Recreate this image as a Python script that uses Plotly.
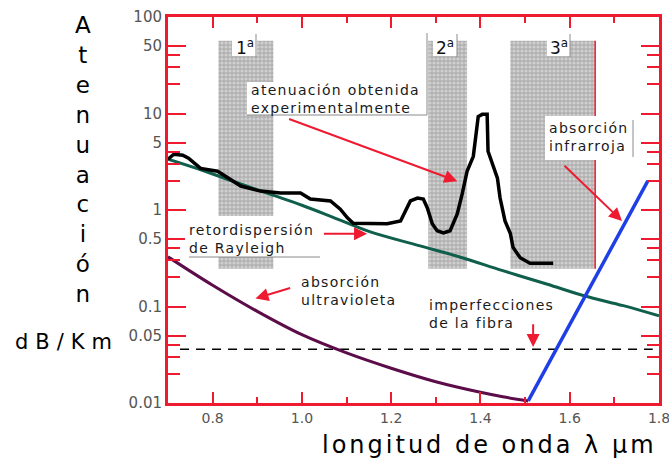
import numpy as np
import plotly.graph_objects as go

# Measured attenuation (dB/km) versus wavelength (um)
exp_wl = [0.700, 0.713, 0.733, 0.746, 0.773, 0.811, 0.863, 0.907, 0.952, 0.997,
          1.019, 1.064, 1.086, 1.102, 1.115, 1.191, 1.221, 1.232, 1.243, 1.259,
          1.272, 1.281, 1.292, 1.303, 1.317, 1.332, 1.348, 1.359, 1.370, 1.384,
          1.395, 1.404, 1.415, 1.417, 1.438, 1.444, 1.455, 1.467, 1.473, 1.489,
          1.511, 1.563]
exp_att = [3.36, 3.78, 3.69, 3.44, 2.70, 2.52, 1.77, 1.57, 1.50, 1.50,
           1.30, 1.24, 1.02, 0.83, 0.73, 0.72, 0.77, 0.98, 1.24, 1.33,
           1.30, 1.05, 0.72, 0.61, 0.58, 0.61, 0.91, 1.46, 2.52, 3.60,
           9.3, 9.8, 9.8, 4.06, 2.14, 1.33, 0.77, 0.57, 0.41, 0.32,
           0.28, 0.28]

# Rayleigh back-scattering
ray_wl = [0.70, 0.78, 0.85, 0.93, 1.00, 1.07, 1.15, 1.26, 1.35, 1.45, 1.55, 1.63, 1.72, 1.80]
ray_att = [3.36, 2.55, 1.95, 1.45, 1.12, 0.84, 0.60, 0.43, 0.33, 0.235, 0.17, 0.13, 0.102, 0.08]

# Ultraviolet absorption
uv_wl = [0.70, 0.80, 0.90, 1.00, 1.10, 1.20, 1.30, 1.40, 1.45, 1.507]
uv_att = [0.327, 0.166, 0.089, 0.051, 0.033, 0.0229, 0.0166, 0.0129, 0.0116, 0.0105]

# Infrared absorption
ir_wl = [1.507, 1.775]
ir_att = [0.0105, 2.0]

# Fibre imperfections floor
imperf_wl = [0.727, 1.786]
imperf_att = [0.036, 0.036]

# Transmission windows
window_labels = ["1<sup>a</sup>", "2<sup>a</sup>", "3<sup>a</sup>"]
window_lo = [0.813, 1.283, 1.467]
window_hi = [0.936, 1.370, 1.657]
window_att_lo = 0.246
window_att_hi = 56.6

x_ticks = [0.8, 1.0, 1.2, 1.4, 1.6, 1.8]
x_tick_text = ["0.8", "1.0", "1.2", "1.4", "1.6", "1.8"]
x_minor = [0.9, 1.1, 1.3, 1.5, 1.7]
y_ticks = [0.01, 0.05, 0.1, 0.5, 1, 5, 10, 50, 100]
y_tick_text = ["0.01", "0.05", "0.1", "0.5", "1", "5", "10", "50", "100"]
y_minor = [0.02, 0.03, 0.04, 0.2, 0.3, 0.4, 2, 3, 4, 20, 30, 40]

RED = "#ee1a30"
FONT = "DejaVu Sans"
W, H = 669, 461
L, R, T, B = 168, 10, 17, 58


def px(x):
    return (x - L) / (W - L - R)


def py(y):
    return (H - B - y) / (H - T - B)


def spaced(text, sp):
    return "<br>".join(f"<span style='letter-spacing:{sp}px'>{t}</span>" for t in text.split("\n"))


fig = go.Figure()

centers = [(a + b) / 2 for a, b in zip(window_lo, window_hi)]
widths = [b - a for a, b in zip(window_lo, window_hi)]
fig.add_bar(
    x=centers, width=widths,
    base=[window_att_lo] * 3, y=[window_att_hi - window_att_lo] * 3,
    marker=dict(color="#b2b2b2", line_width=0,
                pattern=dict(shape=".", fgcolor="#ededed", bgcolor="#b0b0b0", size=4, solidity=0.5)),
    hoverinfo="skip", showlegend=False,
)

# red edge of the third window
fig.add_scatter(x=[window_hi[2]] * 2, y=[window_att_lo, window_att_hi], mode="lines",
                line=dict(color=RED, width=1.5), hoverinfo="skip", showlegend=False)

fig.add_scatter(x=imperf_wl, y=imperf_att, mode="lines",
                line=dict(color="black", width=1.5, dash="9px,7px"), showlegend=False)
fig.add_scatter(x=ray_wl, y=ray_att, mode="lines", line=dict(color="#0f5f4c", width=3, shape="spline"),
                showlegend=False)
fig.add_scatter(x=uv_wl, y=uv_att, mode="lines", line=dict(color="#5c0c48", width=3, shape="spline"),
                showlegend=False)
fig.add_scatter(x=ir_wl, y=ir_att, mode="lines", line=dict(color="#1f3fe6", width=3.5), showlegend=False)
fig.add_scatter(x=exp_wl, y=exp_att, mode="lines", line=dict(color="black", width=3.5), showlegend=False)

shapes = []
annotations = []

# white label boxes and their thin edges
boxes = [(232, 257, 39, 56), (433, 457, 39, 56), (547, 570, 39, 56),
         (247, 427, 82, 115), (185, 322, 216, 257), (545, 633, 116, 160)]
for x0, x1, y0, y1 in boxes:
    shapes.append(dict(type="rect", xref="paper", yref="paper", x0=px(x0), x1=px(x1), y0=py(y1), y1=py(y0),
                       fillcolor="white", line_width=0, layer="above"))
edge_lines = [(256, 34, 256, 57), (457, 34, 457, 57), (570, 34, 570, 57),
              (427, 33, 427, 115), (247, 115, 427, 115),
              (189, 257, 320, 257), (633, 120, 633, 157)]
for x0, y0, x1, y1 in edge_lines:
    shapes.append(dict(type="line", xref="paper", yref="paper", x0=px(x0), x1=px(x1), y0=py(y0), y1=py(y1),
                       line=dict(color="#8a8a8a", width=1), layer="above"))

# window labels
for lab, cx in zip(window_labels, [244.5, 445, 558.5]):
    annotations.append(dict(text=lab, x=px(cx), y=py(47.5), xref="paper", yref="paper", showarrow=False,
                            xanchor="center", yanchor="middle", font=dict(family=FONT, size=17, color="#111")))

labels = [
    ("atenuación obtenida\nexperimentalmente", 249, 80),
    ("retordispersión\nde Rayleigh", 187, 220),
    ("absorción\nultravioleta", 299, 272),
    ("imperfecciones\nde la fibra", 427, 295),
    ("absorción\ninfrarroja", 547, 118),
]
for txt, x0, y0 in labels:
    annotations.append(dict(text=spaced(txt, 1.3), x=px(x0), y=py(y0), xref="paper", yref="paper",
                            showarrow=False, xanchor="left", yanchor="top", align="left",
                            font=dict(family=FONT, size=14, color="#1a1a1a")))

# arrows pointing at the curves (tail -> head, data coordinates)
arrows = [
    ((0.968, 8.88), (1.348, 1.99)),
    ((1.046, 0.566), (1.146, 0.566)),
    ((0.977, 0.157), (0.896, 0.121)),
    ((1.518, 0.068), (1.518, 0.038)),
    ((1.585, 2.98), (1.717, 0.77)),
]
for (tx, ty), (hx, hy) in arrows:
    annotations.append(dict(text="", x=hx, y=np.log10(hy), ax=tx, ay=np.log10(ty), xref="x", yref="y",
                            axref="x", ayref="y", showarrow=True, arrowhead=2, arrowsize=1.3,
                            arrowwidth=2, arrowcolor=RED, standoff=0, startstandoff=0))

# axis titles
annotations.append(dict(text="<br>".join("Atenuación"), x=px(83), y=py(10), xref="paper", yref="paper",
                        showarrow=False, xanchor="center", yanchor="top", align="center",
                        font=dict(family=FONT, size=23, color="black")))
annotations.append(dict(text=spaced("dB/Km", 7), x=px(13), y=py(342), xref="paper", yref="paper",
                        showarrow=False, xanchor="left", yanchor="middle",
                        font=dict(family=FONT, size=21, color="black")))
annotations.append(dict(text=spaced("longitud de onda λ μm", 3.0), x=px(320), y=py(445), xref="paper",
                        yref="paper", showarrow=False, xanchor="left", yanchor="middle",
                        font=dict(family=FONT, size=24, color="black")))

axis_common = dict(showline=True, linecolor=RED, linewidth=3, mirror="allticks", ticks="inside",
                   tickcolor=RED, tickwidth=2, showgrid=False, zeroline=False, automargin=False,
                   ticklabeloverflow="allow")

fig.update_layout(
    width=W, height=H,
    margin=dict(l=L, r=R, t=T, b=B, pad=0, autoexpand=False),
    paper_bgcolor="white", plot_bgcolor="white",
    showlegend=False, barmode="overlay",
    xaxis=dict(range=[0.70, 1.80], tickmode="array", tickvals=x_ticks, ticktext=x_tick_text, ticklen=11,
               minor=dict(tickmode="array", tickvals=x_minor, ticks="inside", ticklen=6, tickcolor=RED, tickwidth=2),
               tickfont=dict(family=FONT, size=14, color="#555"), **axis_common),
    yaxis=dict(type="log", range=[-2, 2], tickmode="array", tickvals=y_ticks, ticktext=y_tick_text, ticklen=18,
               minor=dict(tickmode="array", tickvals=y_minor, ticks="inside", ticklen=12, tickcolor=RED, tickwidth=2),
               tickfont=dict(family=FONT, size=15, color="#555"), **axis_common),
    shapes=shapes,
    annotations=annotations,
)

fig.write_html("out.html")
